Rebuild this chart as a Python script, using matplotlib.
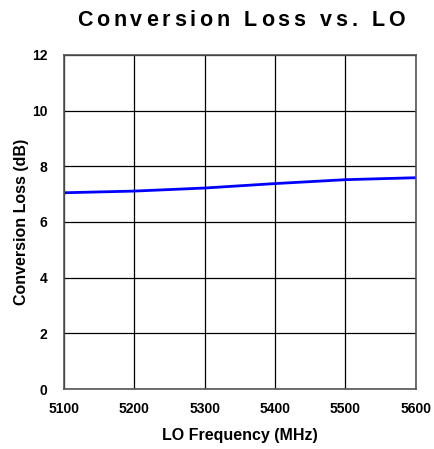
import matplotlib
matplotlib.use("Agg")
import matplotlib.pyplot as plt

freq = [5100, 5200, 5300, 5400, 5500, 5600]
loss = [7.05, 7.11, 7.22, 7.38, 7.52, 7.59]

x_ticks = [5100, 5200, 5300, 5400, 5500, 5600]
y_ticks = [0, 2, 4, 6, 8, 10, 12]
title = "Conversion Loss vs. LO"

plt.rcParams["font.family"] = ["Liberation Sans", "DejaVu Sans"]
plt.rcParams["font.weight"] = "bold"

fig = plt.figure(figsize=(4.35, 4.49), dpi=100)
ax = fig.add_axes([0.147, 0.1336, 0.809, 0.744])

ax.plot(freq, loss, color="#0000ff", linewidth=2)

ax.set_xlim(5100, 5600)
ax.set_ylim(0, 12)
ax.set_xticks(x_ticks)
ax.set_yticks(y_ticks)
ax.tick_params(length=0, labelsize=10)
ax.tick_params(axis="x", pad=9)
ax.tick_params(axis="y", pad=12)
for lbl in ax.get_xticklabels() + ax.get_yticklabels():
    lbl.set_fontweight("bold")
ax.grid(True, color="black", linewidth=0.9)
for s in ax.spines.values():
    s.set_color("#555555")
    s.set_linewidth(1.2)

ax.set_xlabel("LO Frequency (MHz)", fontsize=11.5, fontweight="bold", labelpad=9)
ax.set_ylabel("Conversion Loss (dB)", fontsize=11.5, fontweight="bold", labelpad=2)

# title with wide letter spacing: place characters one by one
renderer = fig.canvas.get_renderer()
fs = 15.5
spacing = 3.8
widths = []
for ch in title:
    t = fig.text(0, 0, ch if ch != " " else "n", fontsize=fs, fontweight="bold")
    w = t.get_window_extent(renderer).width
    if ch == " ":
        w *= 0.5
    widths.append(w)
    t.remove()
total = sum(widths) + spacing * (len(title) - 1)
x = 241 - total / 2
for ch, w in zip(title, widths):
    fig.text(x / 435, 1 - 20 / 449, ch, fontsize=fs, fontweight="bold",
             ha="left", va="center")
    x += w + spacing

fig.savefig("out.png", dpi=100)
